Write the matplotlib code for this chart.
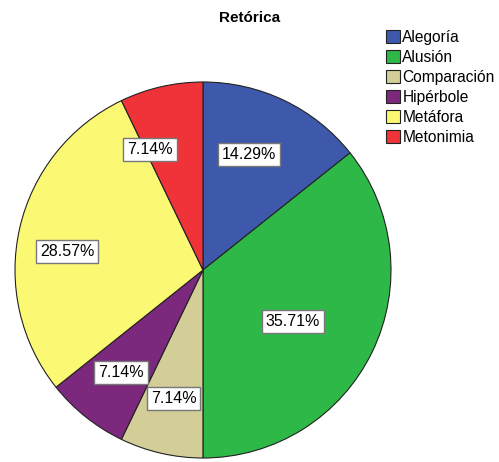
import matplotlib
matplotlib.use("Agg")
import matplotlib.pyplot as plt
import numpy as np

categories = ["Alegoría", "Alusión", "Comparación", "Hipérbole", "Metáfora", "Metonimia"]
values = [14.29, 35.71, 7.14, 7.14, 28.57, 7.14]
colors = ["#3E58AC", "#2EB848", "#D3CE97", "#7C287D", "#FBF873", "#EF3338"]
label_r = [0.66, 0.55, 0.70, 0.70, 0.73, 0.70]
label_da = [4, -4, 0, 0, 5, 11]

plt.rcParams['font.family'] = ['Liberation Sans', 'DejaVu Sans']
fig = plt.figure(figsize=(4.99, 4.62), dpi=100)
ax = fig.add_axes([15/499, 4/462, 376/499, 376/462])
wedges, _ = ax.pie(values, colors=colors, startangle=90, counterclock=False,
                   wedgeprops=dict(edgecolor="#222222", linewidth=0.8), radius=1)
ax.set_xlim(-1, 1)
ax.set_ylim(-1, 1)
ax.set_aspect('equal')

for w, v, r, da in zip(wedges, values, label_r, label_da):
    ang = np.deg2rad((w.theta1 + w.theta2) / 2 + da)
    ax.text(r*np.cos(ang), r*np.sin(ang), f"{v:.2f}%", ha="center", va="center",
            fontsize=11.5, bbox=dict(boxstyle="square,pad=0.25", fc="white", ec="#777777", lw=1))

fig.text(250/499, 1 - 18/462, "Retórica", ha="center", va="center", fontsize=11, fontweight="bold")
fig.legend(wedges, categories, loc="upper left", bbox_to_anchor=(386/499, 1 - 30/462),
           frameon=False, fontsize=11.2, handlelength=0.9, handleheight=0.9,
           handletextpad=0.15, labelspacing=0.32, borderaxespad=0, borderpad=0)
fig.savefig("out.png", dpi=100)
